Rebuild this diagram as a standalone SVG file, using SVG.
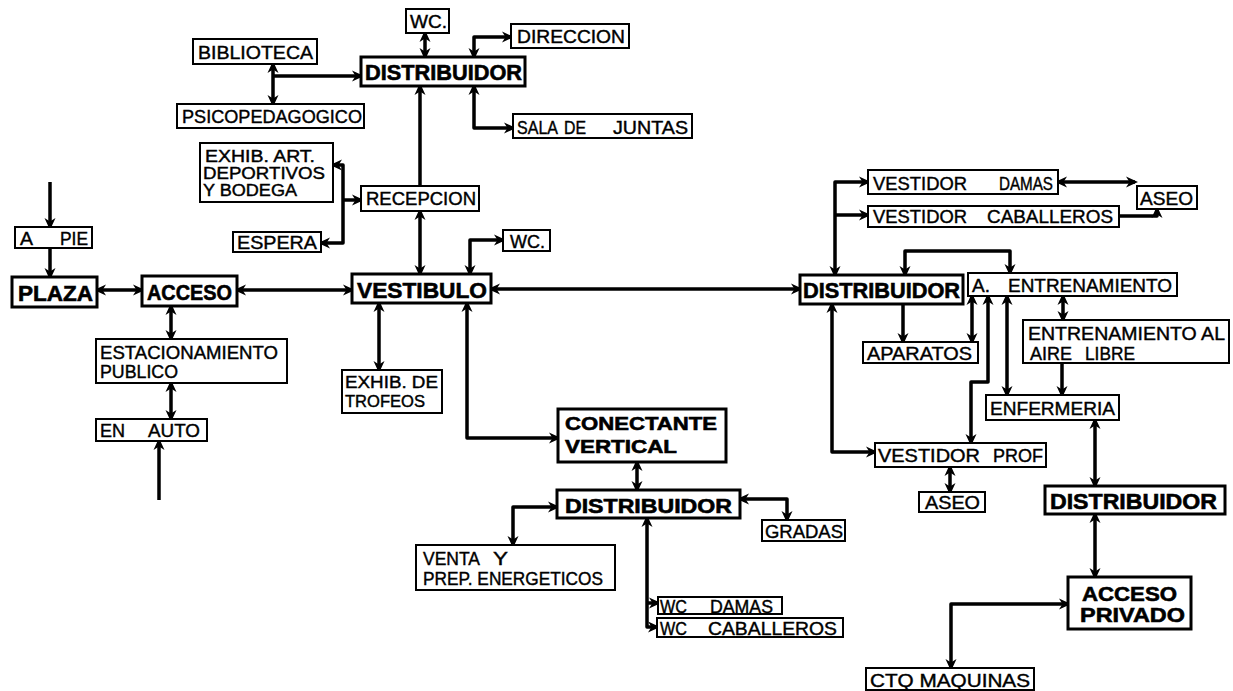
<svg xmlns="http://www.w3.org/2000/svg" width="1233" height="691" viewBox="0 0 1233 691">
<style>
.box{fill:#fff;stroke:#000;stroke-width:2}
.bb{fill:#fff;stroke:#000;stroke-width:3}
.t{font-family:"Liberation Sans",Arial,sans-serif;font-size:18px;fill:#000;stroke:#000;stroke-width:0.4}
.s{font-size:16px}
.b{font-family:"Liberation Sans",Arial,sans-serif;font-weight:bold;font-size:22px;fill:#000;stroke:#000;stroke-width:0.6}
.c{fill:none;stroke:#000;stroke-width:3.5;stroke-linejoin:round}
.e{marker-end:url(#a)}
.be{marker-start:url(#a);marker-end:url(#a)}
</style>
<defs>
<marker id="a" viewBox="0 0 12 12" refX="9" refY="6" markerWidth="12" markerHeight="12" markerUnits="userSpaceOnUse" orient="auto-start-reverse">
<path d="M0,0.5 L12,6 L0,11.5 L3.5,6 z" fill="#000"/>
</marker>
</defs>
<rect width="1233" height="691" fill="#fff"/>
<g id="connectors">
<path class="c e" d="M50,182 L50,227"/>
<path class="c e" d="M50,248 L50,277"/>
<path class="c be" d="M97,290 L142,290"/>
<path class="c be" d="M237,290 L352,290"/>
<path class="c be" d="M171,306 L171,339"/>
<path class="c be" d="M171,383 L171,419"/>
<path class="c e" d="M159,500 L159,441"/>
<path class="c be" d="M379,303 L379,370"/>
<path class="c be" d="M420,274 L420,211"/>
<path class="c e" d="M420,186 L420,86"/>
<path class="c be" d="M425,33 L425,57"/>
<path class="c be" d="M474,57 L474,37 L511,37"/>
<path class="c be" d="M474,86 L474,128 L513,128"/>
<path class="c be" d="M273,64 L273,104"/>
<path class="c e" d="M273,76 L361,76"/>
<path class="c be" d="M333,165 L343,165 L343,243 L321,243"/>
<path class="c e" d="M343,200 L361,200"/>
<path class="c be" d="M470,274 L470,240 L503,240"/>
<path class="c be" d="M467,303 L467,438 L558,438"/>
<path class="c be" d="M491,289 L800,289"/>
<path class="c be" d="M637,462 L637,490"/>
<path class="c be" d="M557,507 L513,507 L513,545"/>
<path class="c be" d="M740,499 L787,499 L787,520"/>
<path class="c be" d="M647,518 L647,627 L657,627"/>
<path class="c e" d="M647,603 L658,603"/>
<path class="c be" d="M835,275 L835,182 L868,182"/>
<path class="c e" d="M835,215 L868,215"/>
<path class="c be" d="M1058,182 L1135,182"/>
<path class="c e" d="M1119,216 L1157,216 L1157,209"/>
<path class="c be" d="M905,275 L905,251 L1010,251 L1010,273"/>
<path class="c e" d="M903,304 L903,342"/>
<path class="c be" d="M972,296 L972,342"/>
<path class="c be" d="M988,296 L988,382 L971,382 L971,443"/>
<path class="c be" d="M1007,296 L1007,395"/>
<path class="c be" d="M1063,296 L1063,320"/>
<path class="c e" d="M1062,363 L1062,395"/>
<path class="c be" d="M1095,420 L1095,486"/>
<path class="c be" d="M1095,514 L1095,577"/>
<path class="c be" d="M832,304 L832,452 L875,452"/>
<path class="c be" d="M950,467 L950,492"/>
<path class="c be" d="M951,668 L951,604 L1068,604"/>
</g>
<g id="wc-top"><rect class="box" x="406" y="9" width="43" height="24"/><text class="t" x="410" y="28" textLength="37" lengthAdjust="spacingAndGlyphs">WC.</text></g>
<g id="direccion"><rect class="box" x="511" y="24" width="118" height="24"/><text class="t" x="517" y="43" textLength="108" lengthAdjust="spacingAndGlyphs">DIRECCION</text></g>
<g id="biblioteca"><rect class="box" x="193" y="39" width="124" height="25"/><text class="t" x="198" y="59" textLength="115" lengthAdjust="spacingAndGlyphs">BIBLIOTECA</text></g>
<g id="distribuidor-top"><rect class="bb" x="361" y="57" width="164" height="29"/><text class="b" x="365" y="80" textLength="157" lengthAdjust="spacingAndGlyphs">DISTRIBUIDOR</text></g>
<g id="psicopedagogico"><rect class="box" x="177" y="104" width="187" height="24"/><text class="t" x="182" y="123" textLength="180" lengthAdjust="spacingAndGlyphs">PSICOPEDAGOGICO</text></g>
<g id="sala-juntas"><rect class="box" x="513" y="114" width="179" height="24"/><text class="t" x="517" y="134" textLength="41" lengthAdjust="spacingAndGlyphs">SALA</text><text class="t" x="564" y="134" textLength="22" lengthAdjust="spacingAndGlyphs">DE</text><text class="t" x="613" y="134" textLength="75" lengthAdjust="spacingAndGlyphs">JUNTAS</text></g>
<g id="exhib-art"><rect class="box" x="200" y="143" width="133" height="59"/><text class="t s" x="205" y="162" textLength="110" lengthAdjust="spacingAndGlyphs">EXHIB. ART.</text><text class="t s" x="203" y="179" textLength="122" lengthAdjust="spacingAndGlyphs">DEPORTIVOS</text><text class="t s" x="203" y="196" textLength="94" lengthAdjust="spacingAndGlyphs">Y BODEGA</text></g>
<g id="recepcion"><rect class="box" x="361" y="186" width="118" height="25"/><text class="t" x="366" y="205" textLength="110" lengthAdjust="spacingAndGlyphs">RECEPCION</text></g>
<g id="espera"><rect class="box" x="233" y="232" width="88" height="20"/><text class="t" x="237" y="249" textLength="80" lengthAdjust="spacingAndGlyphs">ESPERA</text></g>
<g id="a-pie"><rect class="box" x="15" y="227" width="77" height="21"/><text class="t" x="20" y="245" textLength="13" lengthAdjust="spacingAndGlyphs">A</text><text class="t" x="60" y="245" textLength="28" lengthAdjust="spacingAndGlyphs">PIE</text></g>
<g id="wc-vestibulo"><rect class="box" x="503" y="230" width="47" height="21"/><text class="t" x="510" y="248" textLength="35" lengthAdjust="spacingAndGlyphs">WC.</text></g>
<g id="plaza"><rect class="bb" x="12" y="277" width="85" height="30"/><text class="b" x="18" y="301" textLength="75" lengthAdjust="spacingAndGlyphs">PLAZA</text></g>
<g id="acceso"><rect class="bb" x="142" y="276" width="95" height="30"/><text class="b" x="147" y="300" textLength="85" lengthAdjust="spacingAndGlyphs">ACCESO</text></g>
<g id="vestibulo"><rect class="bb" x="352" y="274" width="139" height="29"/><text class="b" x="357" y="298" textLength="130" lengthAdjust="spacingAndGlyphs">VESTIBULO</text></g>
<g id="estacionamiento"><rect class="box" x="96" y="339" width="191" height="44"/><text class="t" x="100" y="359" textLength="178" lengthAdjust="spacingAndGlyphs">ESTACIONAMIENTO</text><text class="t" x="100" y="378" textLength="78" lengthAdjust="spacingAndGlyphs">PUBLICO</text></g>
<g id="en-auto"><rect class="box" x="96" y="419" width="111" height="22"/><text class="t" x="100" y="437" textLength="25" lengthAdjust="spacingAndGlyphs">EN</text><text class="t" x="148" y="437" textLength="52" lengthAdjust="spacingAndGlyphs">AUTO</text></g>
<g id="exhib-trofeos"><rect class="box" x="342" y="370" width="100" height="43"/><text class="t s" x="345" y="388" textLength="93" lengthAdjust="spacingAndGlyphs">EXHIB. DE</text><text class="t s" x="345" y="407" textLength="80" lengthAdjust="spacingAndGlyphs">TROFEOS</text></g>
<g id="conectante"><rect class="bb" x="558" y="409" width="168" height="53"/><text class="b" x="565" y="430" style="font-size:19px" textLength="152" lengthAdjust="spacingAndGlyphs">CONECTANTE</text><text class="b" x="565" y="453" style="font-size:19px" textLength="112" lengthAdjust="spacingAndGlyphs">VERTICAL</text></g>
<g id="distribuidor-mid"><rect class="bb" x="557" y="490" width="183" height="28"/><text class="b" x="565" y="513" style="font-size:20px" textLength="167" lengthAdjust="spacingAndGlyphs">DISTRIBUIDOR</text></g>
<g id="gradas"><rect class="box" x="762" y="520" width="83" height="21"/><text class="t" x="765" y="538" textLength="78" lengthAdjust="spacingAndGlyphs">GRADAS</text></g>
<g id="venta"><rect class="box" x="416" y="545" width="199" height="45"/><text class="t" x="423" y="565" textLength="57" lengthAdjust="spacingAndGlyphs">VENTA</text><text class="t" x="493" y="565" textLength="15" lengthAdjust="spacingAndGlyphs">Y</text><text class="t" x="423" y="585" textLength="180" lengthAdjust="spacingAndGlyphs">PREP. ENERGETICOS</text></g>
<g id="wc-damas"><rect class="box" x="658" y="597" width="124" height="17"/><text class="t" x="660" y="613" textLength="27" lengthAdjust="spacingAndGlyphs">WC</text><text class="t" x="710" y="613" textLength="63" lengthAdjust="spacingAndGlyphs">DAMAS</text></g>
<g id="wc-caballeros"><rect class="box" x="657" y="618" width="186" height="19"/><text class="t" x="660" y="635" textLength="27" lengthAdjust="spacingAndGlyphs">WC</text><text class="t" x="708" y="635" textLength="129" lengthAdjust="spacingAndGlyphs">CABALLEROS</text></g>
<g id="vestidor-damas"><rect class="box" x="868" y="170" width="190" height="24"/><text class="t" x="873" y="190" textLength="94" lengthAdjust="spacingAndGlyphs">VESTIDOR</text><text class="t" x="999" y="190" textLength="54" lengthAdjust="spacingAndGlyphs">DAMAS</text></g>
<g id="aseo-top"><rect class="box" x="1137" y="186" width="60" height="23"/><text class="t" x="1140" y="205" textLength="53" lengthAdjust="spacingAndGlyphs">ASEO</text></g>
<g id="vestidor-caballeros"><rect class="box" x="868" y="206" width="251" height="21"/><text class="t" x="873" y="223" textLength="94" lengthAdjust="spacingAndGlyphs">VESTIDOR</text><text class="t" x="987" y="223" textLength="126" lengthAdjust="spacingAndGlyphs">CABALLEROS</text></g>
<g id="distribuidor-right"><rect class="bb" x="800" y="275" width="163" height="29"/><text class="b" x="803" y="298" textLength="157" lengthAdjust="spacingAndGlyphs">DISTRIBUIDOR</text></g>
<g id="a-entrenamiento"><rect class="box" x="968" y="273" width="209" height="23"/><text class="t" x="972" y="292" textLength="18" lengthAdjust="spacingAndGlyphs">A.</text><text class="t" x="1008" y="292" textLength="164" lengthAdjust="spacingAndGlyphs">ENTRENAMIENTO</text></g>
<g id="entrenamiento-aire"><rect class="box" x="1023" y="320" width="206" height="43"/><text class="t" x="1028" y="340" textLength="197" lengthAdjust="spacingAndGlyphs">ENTRENAMIENTO AL</text><text class="t" x="1030" y="360" textLength="42" lengthAdjust="spacingAndGlyphs">AIRE</text><text class="t" x="1085" y="360" textLength="50" lengthAdjust="spacingAndGlyphs">LIBRE</text></g>
<g id="aparatos"><rect class="box" x="863" y="342" width="115" height="21"/><text class="t" x="867" y="360" textLength="105" lengthAdjust="spacingAndGlyphs">APARATOS</text></g>
<g id="enfermeria"><rect class="box" x="986" y="395" width="133" height="25"/><text class="t" x="990" y="415" textLength="125" lengthAdjust="spacingAndGlyphs">ENFERMERIA</text></g>
<g id="vestidor-prof"><rect class="box" x="875" y="443" width="171" height="24"/><text class="t" x="878" y="462" textLength="102" lengthAdjust="spacingAndGlyphs">VESTIDOR</text><text class="t" x="993" y="462" textLength="50" lengthAdjust="spacingAndGlyphs">PROF</text></g>
<g id="aseo-prof"><rect class="box" x="919" y="492" width="66" height="20"/><text class="t" x="925" y="509" textLength="55" lengthAdjust="spacingAndGlyphs">ASEO</text></g>
<g id="distribuidor-br"><rect class="bb" x="1045" y="486" width="180" height="28"/><text class="b" x="1050" y="509" textLength="167" lengthAdjust="spacingAndGlyphs">DISTRIBUIDOR</text></g>
<g id="acceso-privado"><rect class="bb" x="1068" y="577" width="123" height="52"/><text class="b" x="1082" y="601" style="font-size:21px" textLength="95" lengthAdjust="spacingAndGlyphs">ACCESO</text><text class="b" x="1080" y="622" style="font-size:21px" textLength="105" lengthAdjust="spacingAndGlyphs">PRIVADO</text></g>
<g id="cto-maquinas"><rect class="box" x="866" y="668" width="168" height="22"/><text class="t" x="870" y="687" textLength="160" lengthAdjust="spacingAndGlyphs">CTQ MAQUINAS</text></g>
</svg>
